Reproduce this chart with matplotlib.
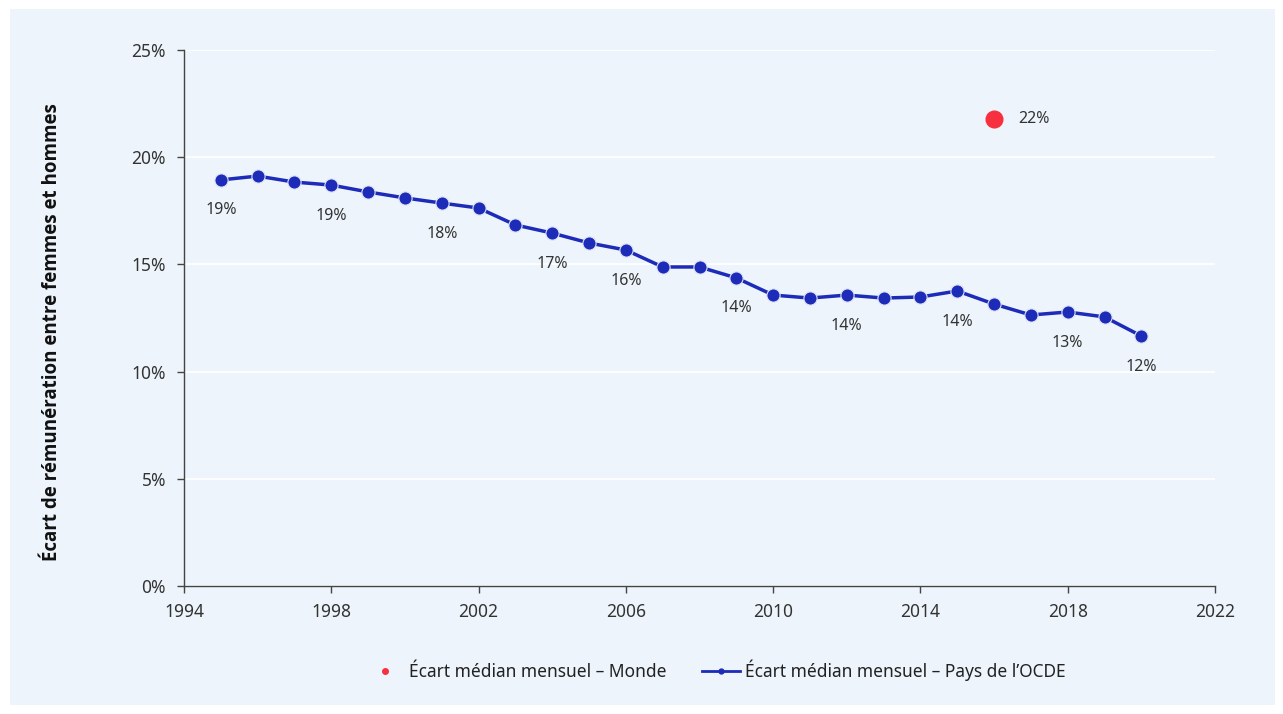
import matplotlib

matplotlib.use("Agg")
import matplotlib.pyplot as plt
from matplotlib.patches import Rectangle
from matplotlib.lines import Line2D

plt.rcParams["font.family"] = ["Noto Sans", "DejaVu Sans"]

# data
years = list(range(1995, 2021))
oecd_gap = [18.94, 19.12, 18.84, 18.70, 18.38, 18.10, 17.86, 17.63, 16.84, 16.46,
            16.00, 15.67, 14.88, 14.88, 14.37, 13.57, 13.43, 13.57, 13.43, 13.48,
            13.76, 13.15, 12.64, 12.78, 12.55, 11.66]
label_years = [1995, 1998, 2001, 2004, 2006, 2009, 2012, 2015, 2018, 2020]
label_texts = ["19%", "19%", "18%", "17%", "16%", "14%", "14%", "14%", "13%", "12%"]
world_year = [2016]
world_gap = [21.78]
world_text = "22%"

bg = "#EDF4FB"
blue = "#1C2BB8"
red = "#F7303F"
txt = "#333333"

fig = plt.figure(figsize=(12.83, 7.14), dpi=100)
fig.patch.set_facecolor("white")
fig.patches.append(Rectangle((10 / 1283, 9 / 714), 1265 / 1283, 696 / 714,
                             transform=fig.transFigure, facecolor=bg,
                             edgecolor="none", zorder=-10))

ax = fig.add_axes([184 / 1283, 128 / 714, 1031 / 1283, 536 / 714])
ax.set_facecolor(bg)

ax.plot(years, oecd_gap, color=blue, lw=2.5, marker="o", markersize=9.5,
        markerfacecolor=blue, markeredgecolor="#DDE3F7", markeredgewidth=0.8,
        zorder=3)
ax.plot(world_year, world_gap, linestyle="none", marker="o", markersize=12,
        color=red, zorder=3)

for yr, t in zip(label_years, label_texts):
    v = oecd_gap[years.index(yr)]
    ax.annotate(t, (yr, v), xytext=(0, -22), textcoords="offset points",
                ha="center", va="center", fontsize=11.5, color=txt)
ax.annotate(world_text, (world_year[0], world_gap[0]), xytext=(29, 0),
            textcoords="offset points", ha="center", va="center",
            fontsize=11.5, color=txt)

ax.set_xlim(1994, 2022)
ax.set_ylim(0, 25)
ax.set_xticks(range(1994, 2023, 4))
ax.set_yticks(range(0, 26, 5))
ax.set_yticklabels([f"{v}%" for v in range(0, 26, 5)])
ax.grid(axis="y", color="white", lw=1.2)
ax.set_axisbelow(True)
for s in ["top", "right"]:
    ax.spines[s].set_visible(False)
for s in ["left", "bottom"]:
    ax.spines[s].set_color("#444444")
    ax.spines[s].set_linewidth(1)
ax.tick_params(axis="both", colors="#444444", labelcolor=txt, labelsize=12.5,
               length=5, width=1)
ax.tick_params(axis="y", pad=8)
ax.tick_params(axis="x", pad=7)
ax.set_ylabel("Écart de rémunération entre femmes et hommes", fontsize=13.5,
              fontweight="bold", color="#111111",
              family=["Open Sans", "DejaVu Sans"])
ax.yaxis.set_label_coords(-0.118, 0.474)

handles = [
    Line2D([], [], linestyle="none", marker="o", markersize=4, color=red),
    Line2D([], [], color=blue, lw=2, marker="o", markersize=3.5),
]
labels = ["Écart médian mensuel – Monde", "Écart médian mensuel – Pays de l’OCDE"]
fig.legend(handles, labels, loc="center", bbox_to_anchor=(0.558, 44 / 714),
           ncol=2, frameon=False, fontsize=12.5, handlelength=2.2,
           handletextpad=0.3, columnspacing=2.0, labelcolor="#222222")

fig.savefig("out.png", dpi=100, facecolor=fig.get_facecolor())
